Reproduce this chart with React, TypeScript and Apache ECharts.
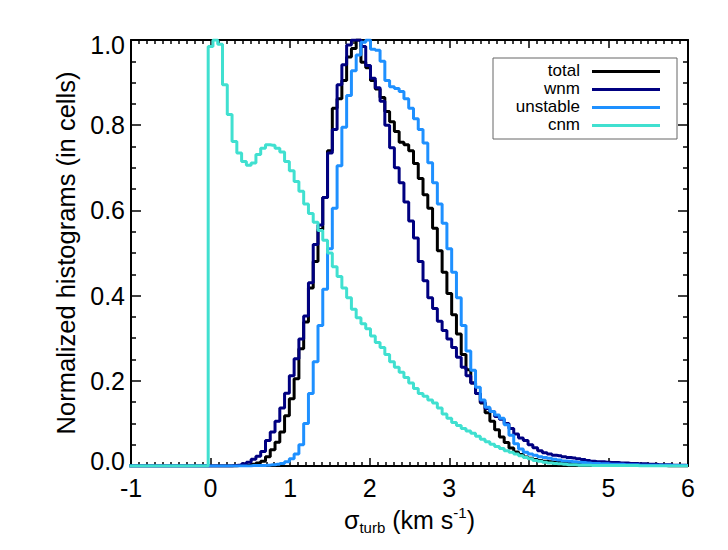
import React, { useEffect, useRef } from "react";
import * as echarts from "echarts";

// Histogram bins: width 0.06 km/s, centers at 0, 0.06, ... 6.00
const BIN_WIDTH = 0.06;
const PAD_BINS = 17; // empty bins left of 0 (down to -1.02)

const seriesNames = ["total", "wnm", "unstable", "cnm"];
const seriesColors = ["#000000", "#000080", "#1E90FF", "#40E0D0"];

const totalVals = [
  0, 0, 0, 0, 0, 0, 0.001, 0.001, 0.002, 0.004,
  0.007, 0.011, 0.022, 0.038, 0.056, 0.08, 0.118, 0.158, 0.205, 0.275,
  0.338, 0.418, 0.48, 0.555, 0.63, 0.74, 0.84, 0.862, 0.905, 0.96,
  0.98, 1.0, 0.948, 0.935, 0.905, 0.885, 0.865, 0.832, 0.808, 0.785,
  0.76, 0.754, 0.74, 0.71, 0.675, 0.637, 0.605, 0.558, 0.505, 0.455,
  0.405, 0.355, 0.31, 0.262, 0.226, 0.195, 0.17, 0.148, 0.125, 0.105,
  0.085, 0.068, 0.055, 0.042, 0.033, 0.027, 0.021, 0.018, 0.015, 0.013,
  0.011, 0.01, 0.009, 0.008, 0.007, 0.006, 0.006, 0.005, 0.005, 0.004,
  0.004, 0.003, 0.003, 0.003, 0.002, 0.002, 0.002, 0.002, 0.001, 0.001,
  0.001, 0.001, 0.001, 0.001, 0.001, 0.001, 0, 0, 0, 0,
  0,
];

const wnmVals = [
  0, 0, 0, 0, 0, 0.001, 0.002, 0.005, 0.009, 0.016,
  0.023, 0.034, 0.06, 0.08, 0.105, 0.136, 0.171, 0.212, 0.252, 0.298,
  0.352, 0.43, 0.52, 0.566, 0.63, 0.735, 0.79, 0.895, 0.942, 0.988,
  1.0, 1.0, 0.985, 0.94, 0.91, 0.888, 0.856, 0.8, 0.747, 0.7,
  0.665, 0.62, 0.575, 0.535, 0.48, 0.435, 0.395, 0.37, 0.34, 0.318,
  0.298, 0.278, 0.255, 0.232, 0.212, 0.195, 0.17, 0.15, 0.135, 0.128,
  0.116, 0.11, 0.1, 0.088, 0.075, 0.066, 0.06, 0.05, 0.043, 0.036,
  0.031, 0.028, 0.025, 0.024, 0.022, 0.02, 0.019, 0.017, 0.015, 0.013,
  0.011, 0.01, 0.01, 0.009, 0.008, 0.008, 0.007, 0.007, 0.006, 0.006,
  0.005, 0.005, 0.004, 0.004, 0.003, 0.003, 0.003, 0.002, 0.002, 0.002,
  0.001,
];

const unstableVals = [
  0, 0, 0, 0, 0, 0, 0, 0, 0, 0.001,
  0.001, 0.001, 0.002, 0.003, 0.004, 0.006, 0.01, 0.017, 0.028, 0.05,
  0.1, 0.17, 0.245, 0.33, 0.415, 0.51, 0.605, 0.705, 0.795, 0.87,
  0.928, 0.965, 0.995, 1.0, 0.978, 0.976, 0.95, 0.905, 0.89, 0.886,
  0.879, 0.862, 0.84, 0.815, 0.79, 0.758, 0.712, 0.665, 0.615, 0.57,
  0.51, 0.455, 0.395, 0.33, 0.27, 0.225, 0.185, 0.155, 0.138, 0.128,
  0.12, 0.112, 0.097, 0.072, 0.052, 0.04, 0.032, 0.028, 0.025, 0.022,
  0.02, 0.018, 0.016, 0.014, 0.012, 0.011, 0.01, 0.009, 0.008, 0.007,
  0.006, 0.006, 0.005, 0.005, 0.004, 0.004, 0.004, 0.003, 0.003, 0.003,
  0.002, 0.002, 0.002, 0.002, 0.002, 0.002, 0.002, 0.001, 0.001, 0.001,
  0.001,
];

const cnmVals = [
  0.985, 1.0, 0.99, 0.895, 0.825, 0.762, 0.735, 0.715, 0.706, 0.711,
  0.731, 0.746, 0.754, 0.753, 0.746, 0.737, 0.715, 0.693, 0.668, 0.645,
  0.615, 0.593, 0.572, 0.553, 0.53, 0.5, 0.468, 0.445, 0.418, 0.395,
  0.368, 0.348, 0.334, 0.322, 0.305, 0.29, 0.278, 0.262, 0.245, 0.232,
  0.22, 0.208, 0.195, 0.182, 0.17, 0.164, 0.155, 0.148, 0.136, 0.122,
  0.112, 0.102, 0.095, 0.088, 0.082, 0.077, 0.07, 0.063, 0.057, 0.051,
  0.046, 0.041, 0.036, 0.032, 0.028, 0.024, 0.02, 0.017, 0.013, 0.011,
  0.009, 0.007, 0.006, 0.005, 0.004, 0.003, 0.003, 0.002, 0.002, 0.002,
  0.001, 0.001, 0.001, 0.001, 0.001, 0.001, 0.001, 0.001, 0.001, 0.001,
  0, 0, 0, 0, 0, 0, 0, 0, 0, 0,
  0,
];

const allVals = [totalVals, wnmVals, unstableVals, cnmVals];

const FONT = "'Liberation Sans', Arial, Helvetica, sans-serif";

function toPoints(vals: number[]): number[][] {
  const pts: number[][] = [];
  for (let i = -PAD_BINS; i < vals.length; i++) {
    const x = Math.round(i * BIN_WIDTH * 100) / 100;
    pts.push([x, i < 0 ? 0 : vals[i]]);
  }
  return pts;
}

export default function App() {
  const ref = useRef<HTMLDivElement>(null);

  useEffect(() => {
    if (!ref.current) return;
    const chart = echarts.init(ref.current, null, { renderer: "svg" });

    const tickStyle = { color: "#000", width: 1.5 };
    const axisLineStyle = { color: "#000", width: 2 };

    const xBase = {
      type: "value",
      min: -1,
      max: 6,
      interval: 1,
      splitLine: { show: false },
      axisLine: { show: true, onZero: false, lineStyle: axisLineStyle },
      axisTick: { show: true, inside: true, length: 8, lineStyle: tickStyle },
      minorTick: { show: true, splitNumber: 10, length: 4, lineStyle: tickStyle },
    };
    const yBase = {
      type: "value",
      min: 0,
      max: 1,
      interval: 0.2,
      splitLine: { show: false },
      axisLine: { show: true, onZero: false, lineStyle: axisLineStyle },
      axisTick: { show: true, inside: true, length: 10, lineStyle: tickStyle },
      minorTick: { show: true, splitNumber: 4, length: 5, lineStyle: tickStyle },
    };

    const labelFont = { fontFamily: FONT, fontSize: 25, color: "#000" };

    const legendTop = 71.5;
    const legendStep = 18;
    const legendGraphics: any[] = [
      {
        type: "rect",
        z: 100,
        shape: { x: 493, y: 58, width: 184, height: 81 },
        style: { fill: "#fff", stroke: "#666", lineWidth: 1 },
      },
    ];
    seriesNames.forEach((name, i) => {
      const ly = legendTop + i * legendStep;
      legendGraphics.push({
        type: "line",
        z: 101,
        shape: { x1: 592, y1: ly, x2: 660, y2: ly },
        style: { stroke: seriesColors[i], lineWidth: 3 },
      });
      legendGraphics.push({
        type: "text",
        z: 101,
        x: 580,
        y: ly - 1,
        style: {
          text: name,
          fill: "#000",
          font: `17px ${FONT}`,
          lineHeight: 17,
          align: "right",
          verticalAlign: "middle",
        },
      });
    });

    chart.setOption({
      animation: false,
      backgroundColor: "#fff",
      grid: { left: 131, right: 40, top: 40, bottom: 84, containLabel: false },
      xAxis: [
        {
          ...xBase,
          position: "bottom",
          axisLabel: { ...labelFont, margin: 9 },
          name: "{n|σ}{sub|turb}{n| (km s}{sup|-1}{n|)}",
          nameLocation: "middle",
          nameGap: 25,
          nameTextStyle: {
            rich: {
              n: { fontFamily: FONT, fontSize: 25, color: "#000", lineHeight: 30 },
              sub: {
                fontFamily: FONT,
                fontSize: 15,
                color: "#000",
                lineHeight: 15,
                verticalAlign: "bottom",
              },
              sup: {
                fontFamily: FONT,
                fontSize: 15,
                color: "#000",
                lineHeight: 15,
                verticalAlign: "top",
              },
            },
          },
        },
        {
          ...xBase,
          position: "top",
          axisLabel: { show: false },
        },
      ],
      yAxis: [
        {
          ...yBase,
          position: "left",
          axisLabel: {
            ...labelFont,
            margin: 6,
            formatter: (v: number) => {
              const s = v.toFixed(1);
              if (Math.abs(v) < 1e-9) return `{lo|${s}}`;
              if (Math.abs(v - 1) < 1e-9) return `{hi|${s}}`;
              return s;
            },
            rich: {
              lo: { ...labelFont, padding: [0, 0, 10, 0] },
              hi: { ...labelFont, padding: [10, 0, 0, 0] },
            },
          },
          name: "Normalized histograms (in cells)",
          nameLocation: "middle",
          nameGap: 48,
          nameTextStyle: { fontFamily: FONT, fontSize: 25.5, color: "#000" },
        },
        {
          ...yBase,
          position: "right",
          axisLabel: { show: false },
        },
      ],
      series: allVals.map((vals, i) => ({
        name: seriesNames[i],
        type: "line",
        xAxisIndex: 0,
        yAxisIndex: 0,
        step: "middle",
        showSymbol: false,
        symbol: "none",
        data: toPoints(vals),
        lineStyle: { color: seriesColors[i], width: 3 },
        itemStyle: { color: seriesColors[i] },
        z: 2 + i,
      })),
      graphic: legendGraphics,
    });

    return () => {
      chart.dispose();
    };
  }, []);

  return (
    <div
      ref={ref}
      style={{ position: "fixed", left: 0, top: 0, width: 728, height: 550, background: "#fff" }}
    />
  );
}
